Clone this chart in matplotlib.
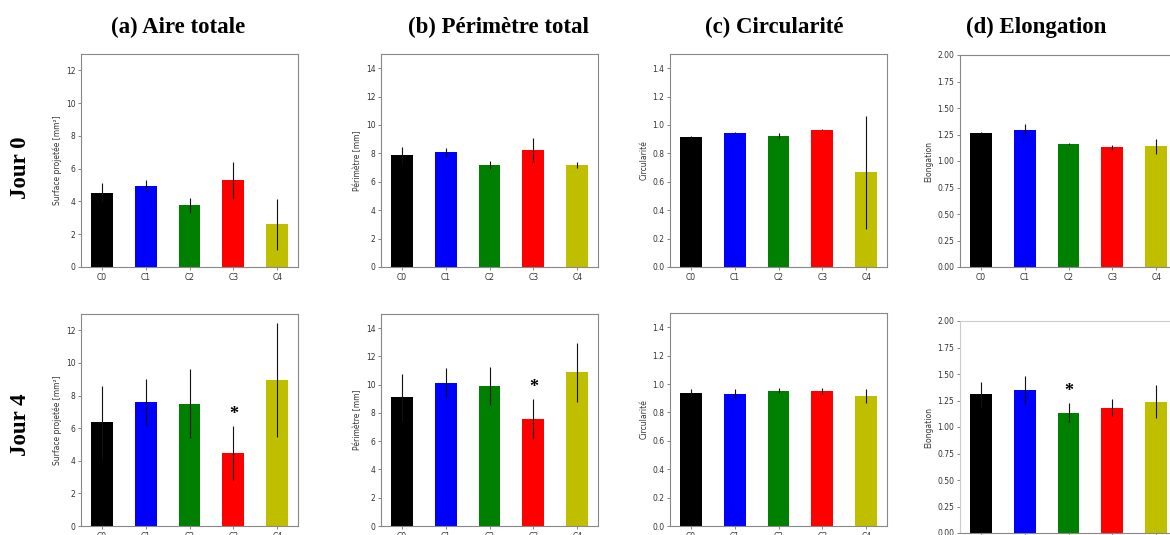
import matplotlib.pyplot as plt

# conditions and colours
categories = ["C0", "C1", "C2", "C3", "C4"]
colors = ["black", "blue", "green", "red", "#bfbf00"]

titles = ["(a) Aire totale", "(b) Périmètre total", "(c) Circularité", "(d) Elongation"]
ylabels = ["Surface projetée [mm²]", "Périmètre [mm]", "Circularité", "Elongation"]
ymax = [13, 15, 1.5, 2.0]
yticks = [[0, 2, 4, 6, 8, 10, 12],
          [0, 2, 4, 6, 8, 10, 12, 14],
          [0.0, 0.2, 0.4, 0.6, 0.8, 1.0, 1.2, 1.4],
          [0.0, 0.25, 0.5, 0.75, 1.0, 1.25, 1.5, 1.75, 2.0]]
ytickfmt = ["{:.0f}", "{:.0f}", "{:.1f}", "{:.2f}"]
row_labels = ["Jour 0", "Jour 4"]

# Jour 0 means / errors
aire_j0 = [4.54, 4.95, 3.76, 5.28, 2.60]
aire_j0_err = [0.60, 0.37, 0.45, 1.12, 1.57]
peri_j0 = [7.86, 8.09, 7.18, 8.24, 7.18]
peri_j0_err = [0.59, 0.31, 0.28, 0.87, 0.18]
circ_j0 = [0.915, 0.946, 0.922, 0.967, 0.666]
circ_j0_err = [0.010, 0.005, 0.024, 0.005, 0.400]
elon_j0 = [1.268, 1.294, 1.162, 1.130, 1.137]
elon_j0_err = [0.005, 0.053, 0.012, 0.025, 0.069]

# Jour 4 means / errors
aire_j4 = [6.35, 7.59, 7.51, 4.49, 8.94]
aire_j4_err = [2.24, 1.43, 2.10, 1.65, 3.50]
peri_j4 = [9.11, 10.13, 9.89, 7.58, 10.88]
peri_j4_err = [1.68, 1.08, 1.35, 1.41, 2.10]
circ_j4 = [0.935, 0.928, 0.954, 0.951, 0.916]
circ_j4_err = [0.028, 0.035, 0.017, 0.024, 0.047]
elon_j4 = [1.308, 1.349, 1.135, 1.182, 1.239]
elon_j4_err = [0.117, 0.132, 0.091, 0.079, 0.154]

# significant differences (index of the bar), one per panel or None
stars_j0 = [None, None, None, None]
stars_j4 = [3, 3, None, 2]

rows = [
    ([aire_j0, peri_j0, circ_j0, elon_j0],
     [aire_j0_err, peri_j0_err, circ_j0_err, elon_j0_err], stars_j0),
    ([aire_j4, peri_j4, circ_j4, elon_j4],
     [aire_j4_err, peri_j4_err, circ_j4_err, elon_j4_err], stars_j4),
]

W, H = 1170, 535
fig = plt.figure(figsize=(W / 100, H / 100), dpi=100)

# axes boxes in pixels: left per column; top, bottom per row
lefts = [81, 381, 670, 960]
width = 217
tops = [[54, 54, 54, 55], [314, 314, 313, 321]]
bottoms = [[267, 267, 267, 267], [526, 526, 526, 533]]
title_x = [178, 499, 774, 1036]

x = list(range(len(categories)))
for r, (means, errs, stars) in enumerate(rows):
    for c in range(4):
        t, b = tops[r][c], bottoms[r][c]
        ax = fig.add_axes([lefts[c] / W, 1 - b / H, width / W, (b - t) / H])
        ax.bar(x, means[c], width=0.5, color=colors, linewidth=0)
        ax.errorbar(x, means[c], yerr=errs[c], fmt="none", ecolor="#111111",
                    elinewidth=0.8, capsize=0)
        ax.set_xlim(-0.47, 4.47)
        ax.set_ylim(0, ymax[c])
        ax.set_yticks(yticks[c])
        ax.set_yticklabels([ytickfmt[c].format(v) for v in yticks[c]])
        ax.set_xticks(x)
        ax.set_xticklabels(categories)
        ax.tick_params(labelsize=5.5, length=2, width=0.5, pad=2,
                       color="#555555", labelcolor="#333333")
        ax.set_ylabel(ylabels[c], fontsize=5.5, color="#333333", labelpad=3)
        for s in ax.spines.values():
            s.set_color("#888888")
            s.set_linewidth(0.8)
        if r == 1 and c == 3:
            ax.spines["top"].set_color("#cccccc")
            ax.spines["left"].set_color("#cccccc")
        k = stars[c]
        if k is not None:
            ax.text(k, means[c][k] + errs[c][k] + 0.055 * ymax[c], "*",
                    ha="center", va="center", fontsize=13, fontweight="bold",
                    family="Liberation Serif")

for c in range(4):
    fig.text(title_x[c] / W, 1 - 27 / H, titles[c], ha="center", va="center",
             fontsize=16.5, fontweight="bold", family="Liberation Serif")

for r, yc in enumerate([168, 425]):
    fig.text(20 / W, 1 - yc / H, row_labels[r], ha="center", va="center",
             rotation=90, fontsize=16.5, fontweight="bold", family="Liberation Serif")

fig.savefig("out.png", dpi=100)
